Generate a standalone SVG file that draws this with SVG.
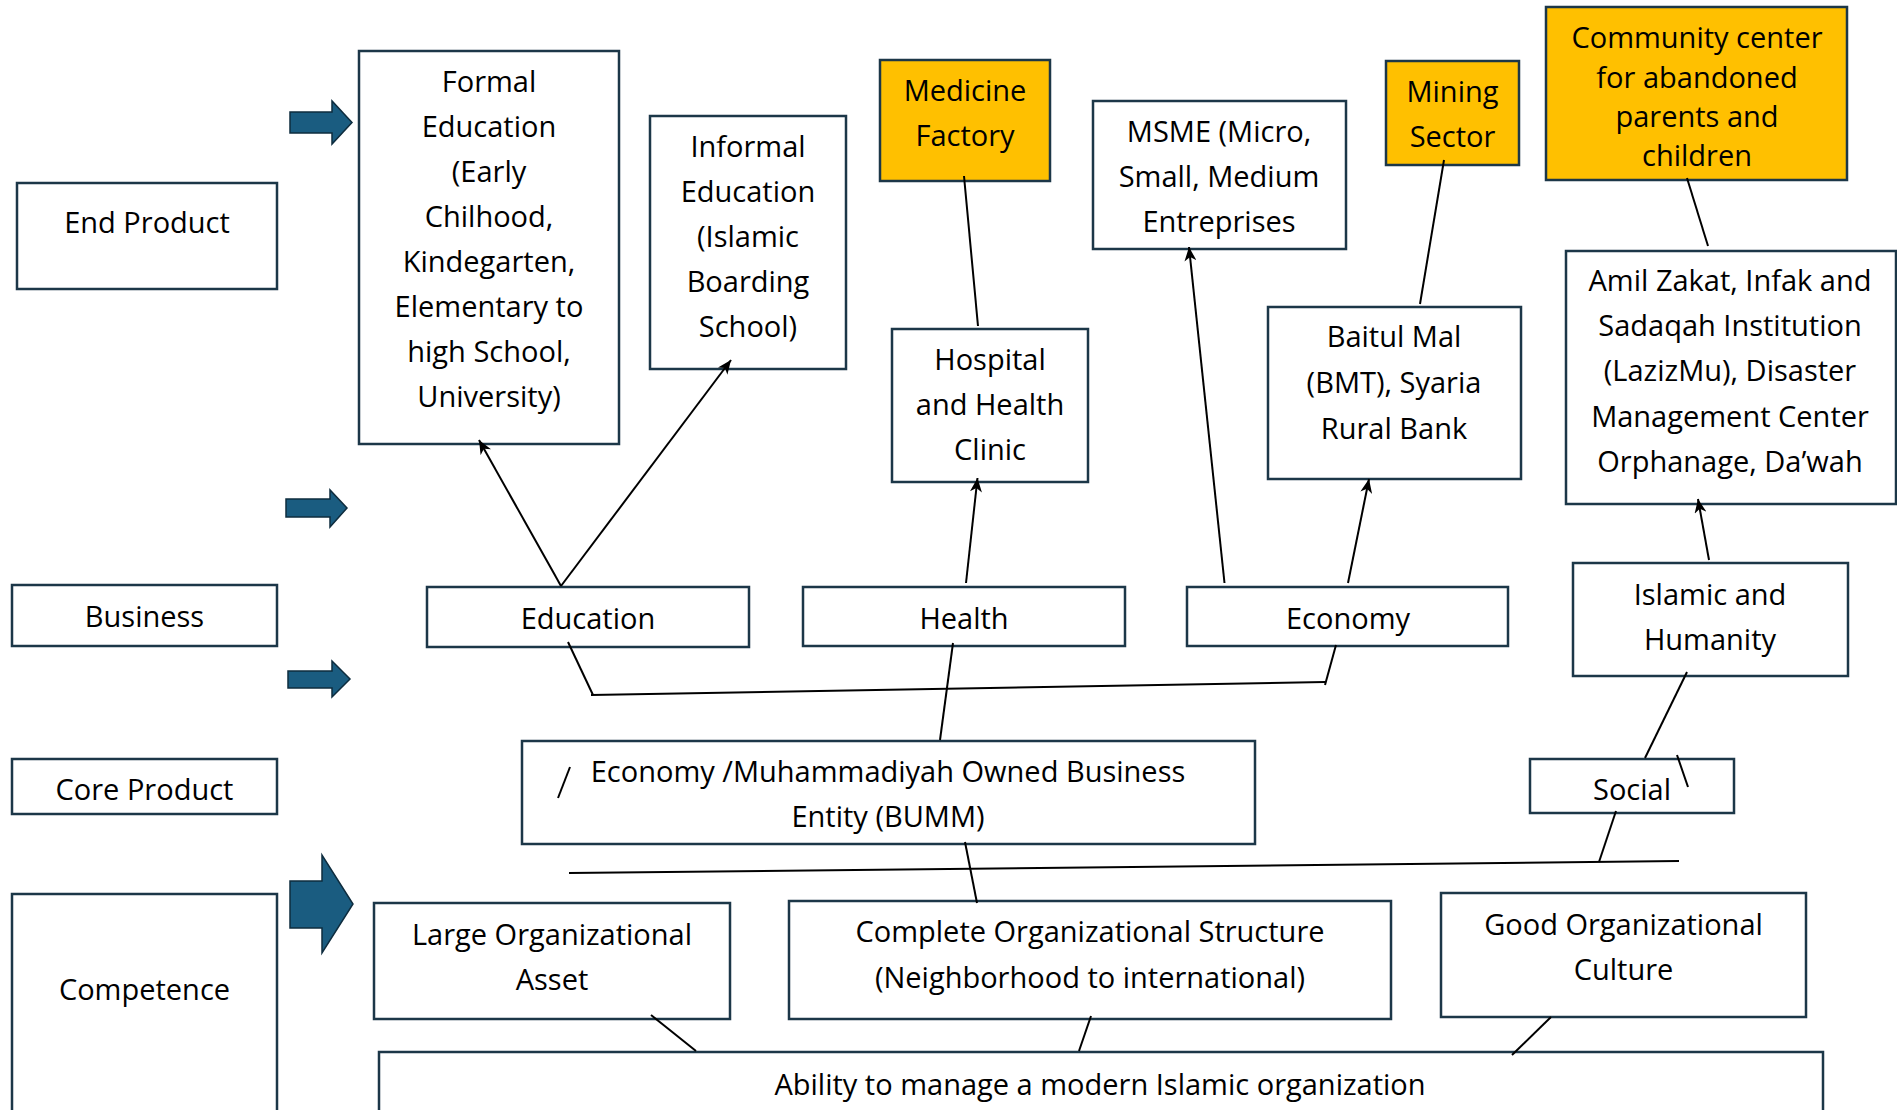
<svg xmlns="http://www.w3.org/2000/svg" width="1897" height="1110" viewBox="0 0 1897 1110">
<style>
.box{fill:#ffffff;stroke:#1c3748;stroke-width:2.5}
.yel{fill:#FFC000;stroke:#1c3748;stroke-width:2.5}
.t{font-family:"Open Sans","Noto Sans","DejaVu Sans",sans-serif;font-size:29px;fill:#000;text-anchor:middle}
.blk{fill:#1a5c80;stroke:#0e2c3e;stroke-width:1.5}
.c{stroke:#000;stroke-width:2;fill:none}
.ca{stroke:#000;stroke-width:2;fill:none;marker-end:url(#ah)}
</style>
<defs>
<marker id="ah" markerUnits="userSpaceOnUse" markerWidth="16" markerHeight="12" refX="14" refY="6" orient="auto">
<path d="M0,0 L14,6 L0,12 L4,6 Z" fill="#000"/>
</marker>
</defs>
<rect width="1897" height="1110" fill="#ffffff"/>

<g id="block-arrows">
<path class="blk" d="M290,112 L332,112 L332,101 L352,122.5 L332,144 L332,133 L290,133 Z"/>
<path class="blk" d="M286,499 L330,499 L330,490 L347,508 L330,527 L330,517 L286,517 Z"/>
<path class="blk" d="M288,671 L332,671 L332,661 L350,679 L332,697 L332,688 L288,688 Z"/>
<path class="blk" d="M290,881 L322,881 L322,855 L353,904 L322,953 L322,928 L290,928 Z"/>
</g>

<g id="end-product"><rect class="box" x="17" y="183" width="260" height="106"/><text class="t" x="147" y="233">End Product</text></g>
<g id="business"><rect class="box" x="12" y="585" width="265" height="61"/><text class="t" x="144.5" y="627">Business</text></g>
<g id="core-product"><rect class="box" x="12" y="759" width="265" height="55"/><text class="t" x="144.5" y="800">Core Product</text></g>
<g id="competence"><rect class="box" x="12" y="894" width="265" height="240"/><text class="t" x="144.5" y="1000">Competence</text></g>

<g id="formal-education"><rect class="box" x="359" y="51" width="260" height="393"/>
<text class="t" x="489" y="92">Formal</text>
<text class="t" x="489" y="137">Education</text>
<text class="t" x="489" y="182">(Early</text>
<text class="t" x="489" y="227">Chilhood,</text>
<text class="t" x="489" y="272">Kindegarten,</text>
<text class="t" x="489" y="317">Elementary to</text>
<text class="t" x="489" y="362">high School,</text>
<text class="t" x="489" y="407">University)</text>
</g>

<g id="informal-education"><rect class="box" x="650" y="116" width="196" height="253"/>
<text class="t" x="748" y="157">Informal</text>
<text class="t" x="748" y="202">Education</text>
<text class="t" x="748" y="247">(Islamic</text>
<text class="t" x="748" y="292">Boarding</text>
<text class="t" x="748" y="337">School)</text>
</g>

<g id="medicine-factory"><rect class="yel" x="880" y="60" width="170" height="121"/>
<text class="t" x="965" y="101">Medicine</text>
<text class="t" x="965" y="146">Factory</text>
</g>

<g id="hospital"><rect class="box" x="892" y="329" width="196" height="153"/>
<text class="t" x="990" y="370">Hospital</text>
<text class="t" x="990" y="415">and Health</text>
<text class="t" x="990" y="460">Clinic</text>
</g>

<g id="msme"><rect class="box" x="1093" y="101" width="253" height="148"/>
<text class="t" x="1219" y="142">MSME (Micro,</text>
<text class="t" x="1219" y="187">Small, Medium</text>
<text class="t" x="1219" y="232">Entreprises</text>
</g>

<g id="mining-sector"><rect class="yel" x="1386" y="61" width="133" height="104"/>
<text class="t" x="1452.5" y="102">Mining</text>
<text class="t" x="1452.5" y="147">Sector</text>
</g>

<g id="community-center"><rect class="yel" x="1546" y="7" width="301" height="173"/>
<text class="t" x="1697" y="48">Community center</text>
<text class="t" x="1697" y="87.5">for abandoned</text>
<text class="t" x="1697" y="127">parents and</text>
<text class="t" x="1697" y="166">children</text>
</g>

<g id="baitul-mal"><rect class="box" x="1268" y="307" width="253" height="172"/>
<text class="t" x="1394" y="347">Baitul Mal</text>
<text class="t" x="1394" y="393">(BMT), Syaria</text>
<text class="t" x="1394" y="438.5">Rural Bank</text>
</g>

<g id="amil-zakat"><rect class="box" x="1566" y="251" width="330" height="253"/>
<text class="t" x="1730" y="291">Amil Zakat, Infak and</text>
<text class="t" x="1730" y="336">Sadaqah Institution</text>
<text class="t" x="1730" y="381">(LazizMu), Disaster</text>
<text class="t" x="1730" y="427">Management Center</text>
<text class="t" x="1730" y="472">Orphanage, Da’wah</text>
</g>

<g id="education"><rect class="box" x="427" y="587" width="322" height="60"/><text class="t" x="588" y="629">Education</text></g>
<g id="health"><rect class="box" x="803" y="587" width="322" height="59"/><text class="t" x="964" y="629">Health</text></g>
<g id="economy"><rect class="box" x="1187" y="587" width="321" height="59"/><text class="t" x="1348" y="629">Economy</text></g>

<g id="islamic-humanity"><rect class="box" x="1573" y="563" width="275" height="113"/>
<text class="t" x="1710" y="605">Islamic and</text>
<text class="t" x="1710" y="650">Humanity</text>
</g>

<g id="bumm"><rect class="box" x="522" y="741" width="733" height="103"/>
<text class="t" x="888" y="782">Economy /Muhammadiyah Owned Business</text>
<text class="t" x="888" y="827">Entity (BUMM)</text>
</g>

<g id="social"><rect class="box" x="1530" y="759" width="204" height="54"/><text class="t" x="1632" y="800">Social</text></g>

<g id="large-asset"><rect class="box" x="374" y="903" width="356" height="116"/>
<text class="t" x="552" y="945">Large Organizational</text>
<text class="t" x="552" y="990">Asset</text>
</g>

<g id="complete-structure"><rect class="box" x="789" y="901" width="602" height="118"/>
<text class="t" x="1090" y="942">Complete Organizational Structure</text>
<text class="t" x="1090" y="988">(Neighborhood to international)</text>
</g>

<g id="good-culture"><rect class="box" x="1441" y="893" width="365" height="124"/>
<text class="t" x="1623.5" y="935">Good Organizational</text>
<text class="t" x="1623.5" y="980">Culture</text>
</g>

<g id="ability"><rect class="box" x="379" y="1052" width="1444" height="80"/>
<text class="t" x="1100" y="1095">Ability to manage a modern Islamic organization</text>
</g>

<g id="connectors">
<line class="ca" x1="561" y1="586" x2="479" y2="440"/>
<line class="ca" x1="561" y1="586" x2="731" y2="360"/>
<line class="ca" x1="966" y1="583" x2="977.5" y2="478"/>
<line class="ca" x1="1224.5" y1="583" x2="1189" y2="247"/>
<line class="ca" x1="1348" y1="583" x2="1369" y2="479"/>
<line class="ca" x1="1709" y1="560" x2="1698" y2="499"/>
<line class="c" x1="964" y1="176" x2="978" y2="326"/>
<line class="c" x1="1444" y1="160" x2="1420" y2="304"/>
<line class="c" x1="1687" y1="178" x2="1708" y2="246"/>
<line class="c" x1="568" y1="642" x2="593" y2="695"/>
<line class="c" x1="591" y1="695" x2="1325" y2="682" stroke-width="2.5"/>
<line class="c" x1="1336" y1="645" x2="1325" y2="685"/>
<line class="c" x1="953" y1="643" x2="940" y2="740"/>
<line class="c" x1="570" y1="767" x2="558" y2="798"/>
<line class="c" x1="1687" y1="672" x2="1645" y2="758"/>
<line class="c" x1="1677" y1="755" x2="1688" y2="787"/>
<line class="c" x1="1616" y1="811" x2="1599" y2="862"/>
<line class="c" x1="965" y1="842" x2="977" y2="903"/>
<line class="c" x1="569" y1="873" x2="1679" y2="861" stroke-width="3"/>
<line class="c" x1="651" y1="1015" x2="696" y2="1051"/>
<line class="c" x1="1091" y1="1016" x2="1079" y2="1051"/>
<line class="c" x1="1551" y1="1017" x2="1512" y2="1055"/>
</g>
</svg>
